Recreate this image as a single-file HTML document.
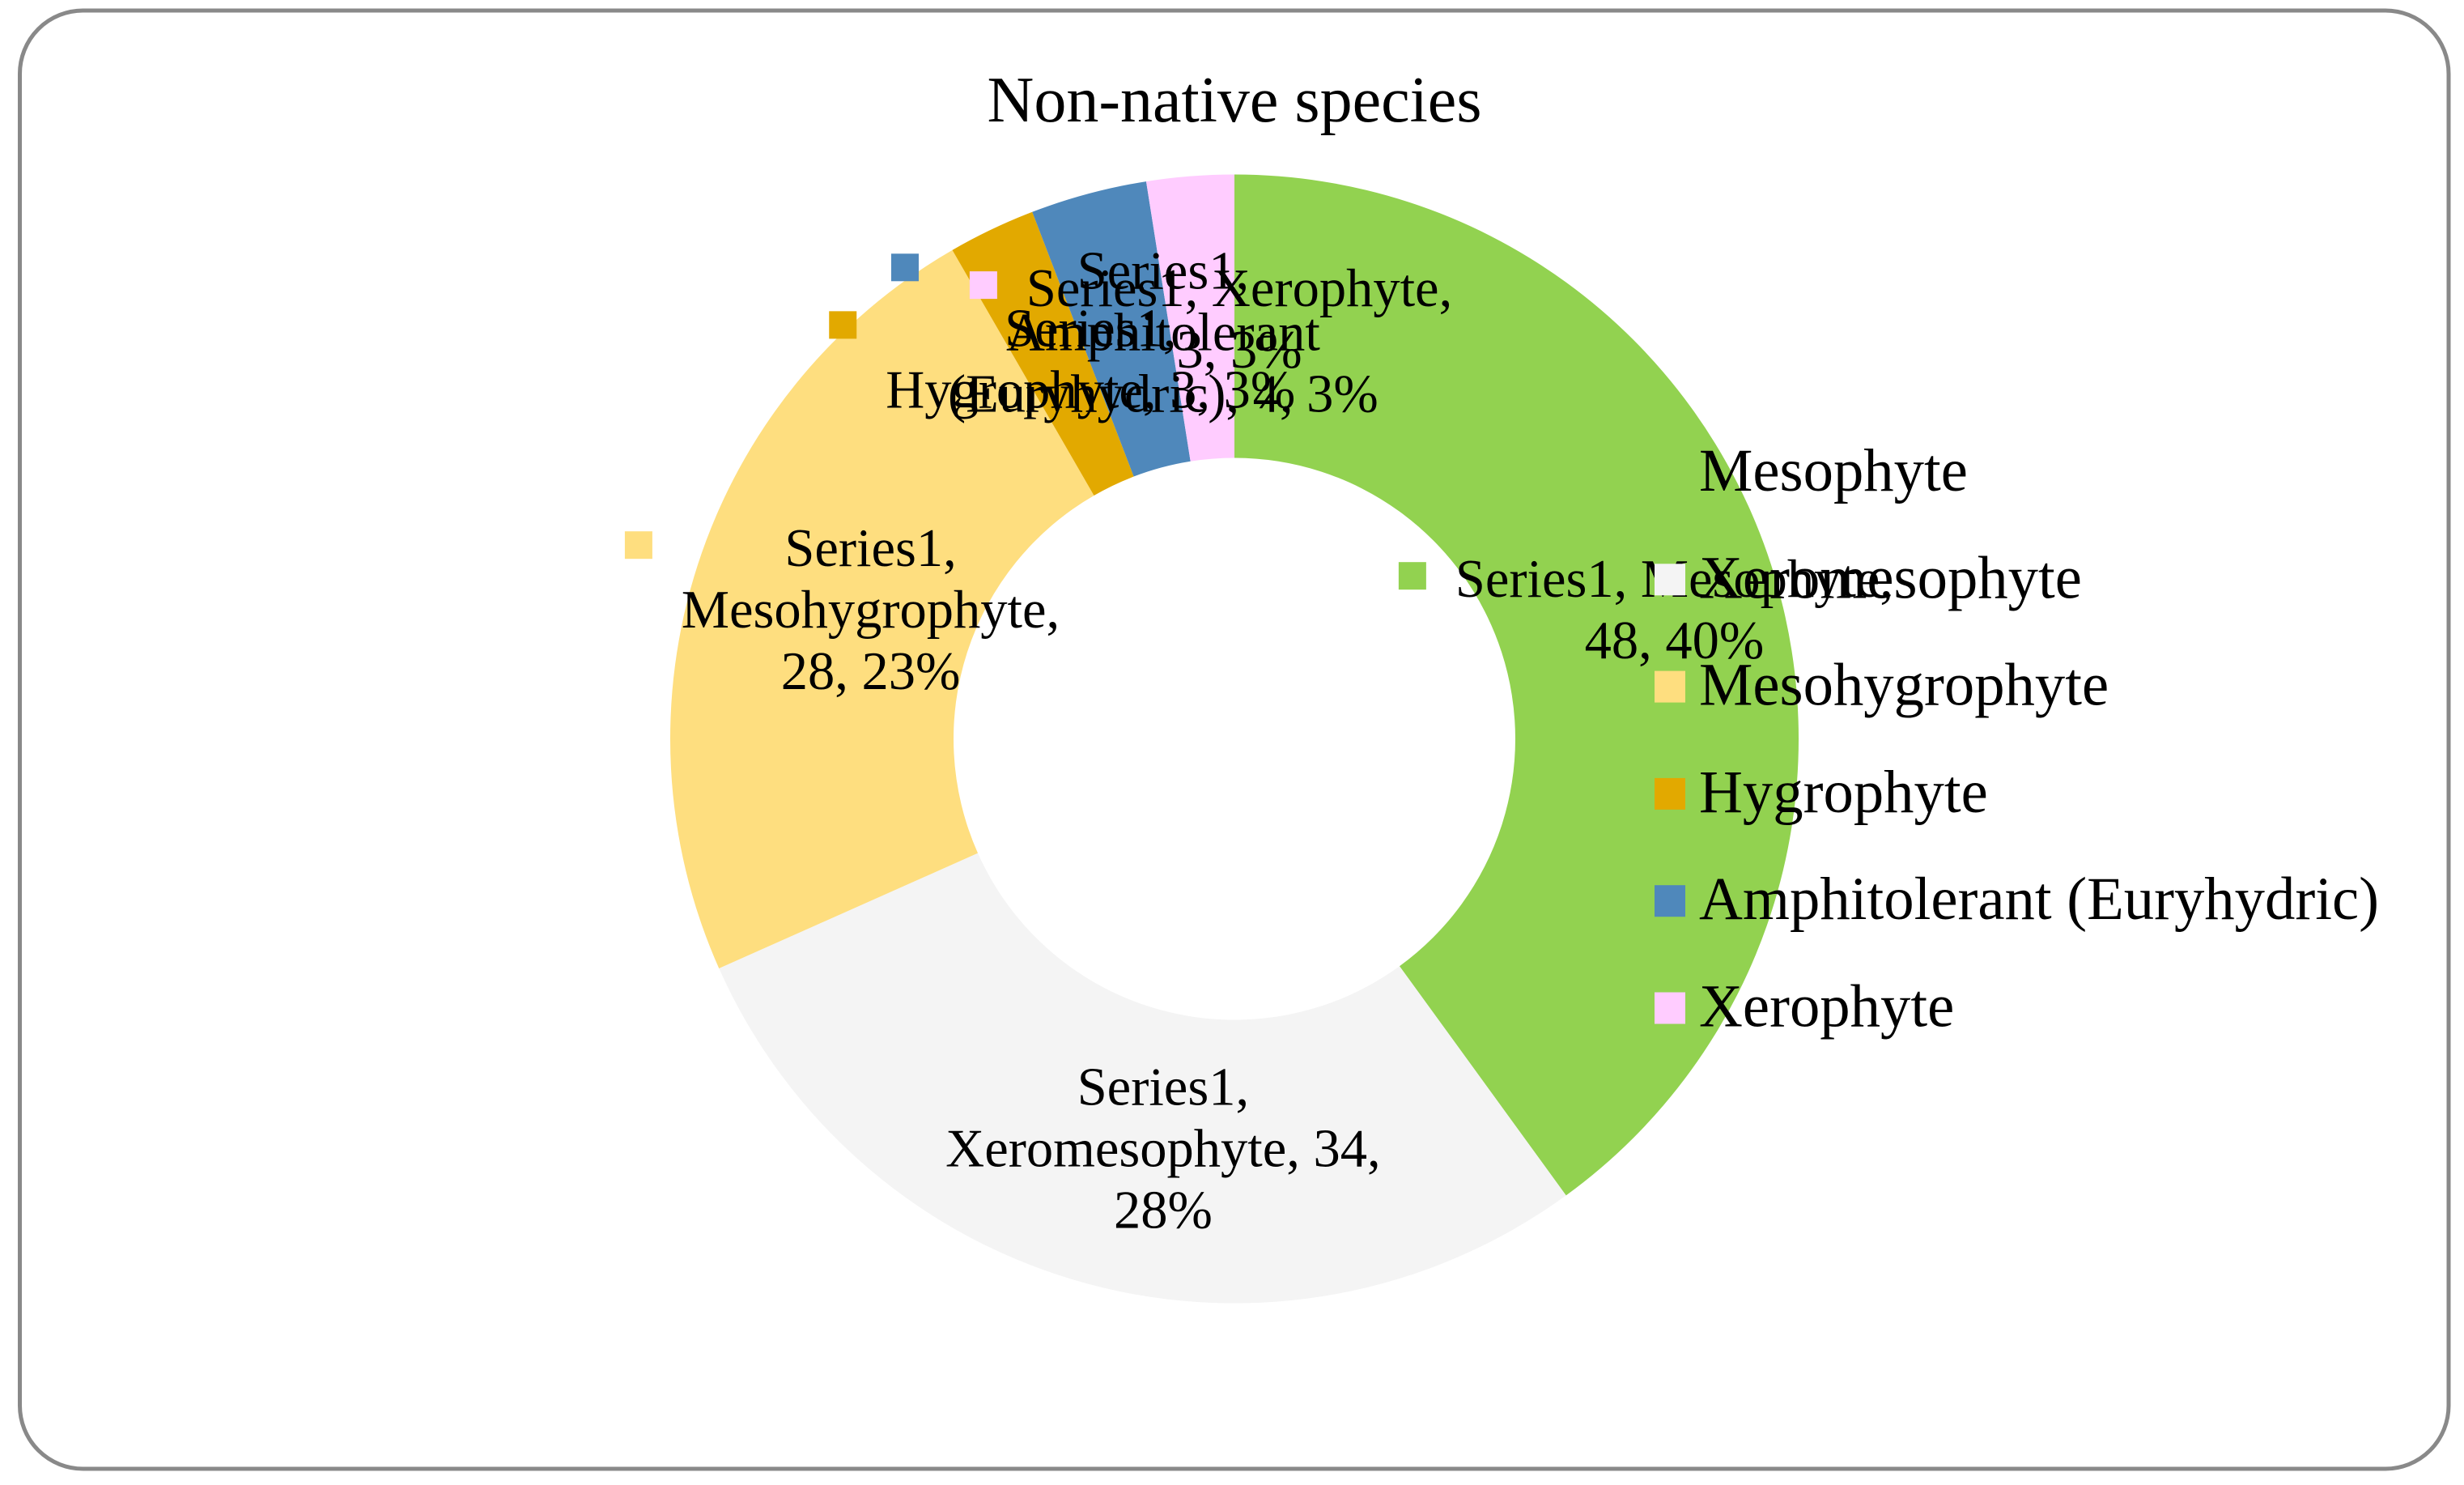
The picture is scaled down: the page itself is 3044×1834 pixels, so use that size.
<!DOCTYPE html>
<html lang="en">
<head>
<meta charset="utf-8">
<title>Non-native species</title>
<style>
html,body{margin:0;padding:0;background:#fff;width:3044px;height:1834px;overflow:hidden}
svg{display:block}
text{font-family:"Liberation Serif",serif;fill:#000}
</style>
</head>
<body>
<svg id="chart" xmlns="http://www.w3.org/2000/svg" width="3044" height="1834" viewBox="0 0 3044 1834">
  <rect x="24.5" y="13" width="3000.5" height="1801" rx="78" ry="78" fill="#fff" stroke="#898989" stroke-width="5"/>
  <text x="1525" y="150" font-size="80" text-anchor="middle">Non-native species</text>
  <g id="slices"></g>
  <g id="labels"></g>
  <g id="legend"></g>
</svg>
<script>
const seriesName = "Series1";
const categories = ["Mesophyte", "Xeromesophyte", "Mesohygrophyte", "Hygrophyte", "Amphitolerant (Euryhydric)", "Xerophyte"];
const values = [48, 34, 28, 3, 4, 3];
const labelTemplates = [
  ["{s}, Mesophyte,", "{v}, {p}%"],
  ["{s},", "Xeromesophyte, {v},", "{p}%"],
  ["{s},", "Mesohygrophyte,", "{v}, {p}%"],
  ["{s},", "Hygrophyte, {v}, {p}%"],
  ["{s},", "Amphitolerant", "(Euryhydric), {v}, {p}%"],
  ["{s}, Xerophyte,", "{v}, {p}%"]
];
const sliceColors = ["#92D250", "#F4F4F4", "#FEDE7F", "#E2A900", "#4F88BB", "#FFCCFF"];

const NS = "http://www.w3.org/2000/svg";
const cx = 1525, cy = 912.5, outerR = 697, innerR = 347;
const total = values.reduce(function (a, b) { return a + b; }, 0);

function angleOf(v) { return v / total * 2 * Math.PI; }
function polar(r, a) { return [cx + r * Math.sin(a), cy - r * Math.cos(a)]; }
function slug(s) { return s.toLowerCase().replace(/[^a-z0-9]+/g, "-").replace(/^-|-$/g, ""); }

function slicePath(a0, a1) {
  const large = a1 - a0 > Math.PI ? 1 : 0;
  const p0 = polar(outerR, a0), p1 = polar(outerR, a1), p2 = polar(innerR, a1), p3 = polar(innerR, a0);
  return "M" + p0[0] + " " + p0[1] +
    "A" + outerR + " " + outerR + " 0 " + large + " 1 " + p1[0] + " " + p1[1] +
    "L" + p2[0] + " " + p2[1] +
    "A" + innerR + " " + innerR + " 0 " + large + " 0 " + p3[0] + " " + p3[1] + "Z";
}

const sliceGroup = document.getElementById("slices");
const labelGroup = document.getElementById("labels");
const legendGroup = document.getElementById("legend");

let running = 0;
values.forEach(function (v, i) {
  const a0 = angleOf(running);
  running += v;
  const a1 = angleOf(running);
  const name = slug(categories[i]);

  const path = document.createElementNS(NS, "path");
  path.setAttribute("d", slicePath(a0, a1));
  path.setAttribute("fill", sliceColors[i]);
  
  
  sliceGroup.appendChild(path);

  // Data label: anchored to the slice's mid-angle at mid-ring radius.
  const anchor = polar((outerR + innerR) / 2, (a0 + a1) / 2);
  const pct = Math.round(v / total * 100);
  const lines = labelTemplates[i].map(function (t) {
    return t.replace("{s}", seriesName).replace("{v}", v).replace("{p}", pct);
  });
  const lineGap = 76;
  const tx = anchor[0] + 47;
  const firstBaseline = anchor[1] + 24 - (lines.length - 1) * lineGap / 2;

  const labelWrap = document.createElementNS(NS, "g");
  
  
  labelGroup.appendChild(labelWrap);

  let maxWidth = 0;
  lines.forEach(function (line, j) {
    const t = document.createElementNS(NS, "text");
    t.setAttribute("x", tx);
    t.setAttribute("y", firstBaseline + j * lineGap);
    t.setAttribute("font-size", "66.5");
    t.setAttribute("text-anchor", "middle");
    
    
    t.textContent = line;
    labelWrap.appendChild(t);
    maxWidth = Math.max(maxWidth, t.getComputedTextLength());
  });

  const key = document.createElementNS(NS, "rect");
  key.setAttribute("x", tx - maxWidth / 2 - 70);
  key.setAttribute("y", firstBaseline - 26 - 17);
  key.setAttribute("width", 34);
  key.setAttribute("height", 34);
  key.setAttribute("fill", sliceColors[i]);
  
  
  labelWrap.appendChild(key);

  // Legend entry
  const legendBaseline = 606 + i * 132.3;
  const entry = document.createElementNS(NS, "g");
  
  
  legendGroup.appendChild(entry);

  const swatch = document.createElementNS(NS, "rect");
  swatch.setAttribute("x", 2044);
  swatch.setAttribute("y", legendBaseline - 42);
  swatch.setAttribute("width", 38);
  swatch.setAttribute("height", 39);
  swatch.setAttribute("fill", sliceColors[i]);
  
  
  entry.appendChild(swatch);

  const lt = document.createElementNS(NS, "text");
  lt.setAttribute("x", 2099);
  lt.setAttribute("y", legendBaseline);
  lt.setAttribute("font-size", "74.7");
  
  
  lt.textContent = categories[i];
  entry.appendChild(lt);
});
</script>
</body>
</html>
